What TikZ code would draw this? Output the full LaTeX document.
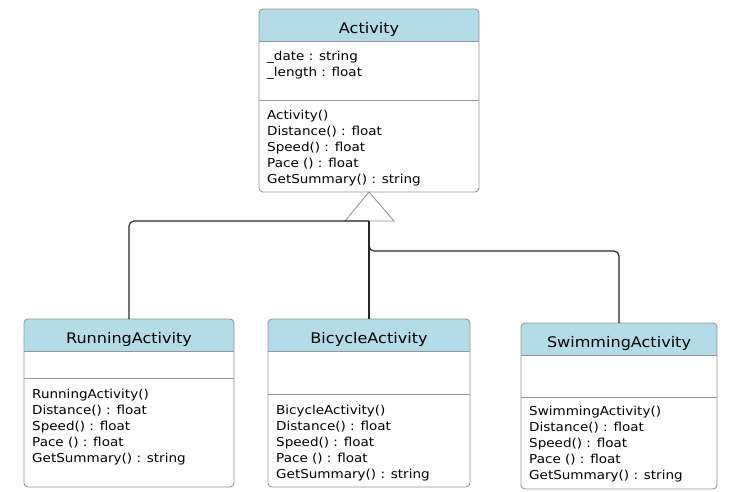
\documentclass[tikz,border=0pt]{standalone}
\usepackage{fontspec}
\setmainfont{DejaVu Sans}[FakeStretch=1.1]
\definecolor{hdr}{RGB}{180,220,232}
\definecolor{bord}{RGB}{150,150,150}
\definecolor{conn}{RGB}{40,40,40}
\newcommand{\umlbox}[7]{%
  \fill[hdr, rounded corners=4pt] (#2,#6) -- (#2,#3) -- (#4,#3) -- (#4,#6);
  \node[draw=bord, line width=0.9pt, rounded corners=4pt, inner sep=0pt, outer sep=0pt,
        anchor=north west, minimum width={#4pt-#2pt}, minimum height={#5pt-#3pt}] (#1) at (#2,#3) {};
  \draw[bord, line width=0.9pt] (#2,#6) -- (#4,#6);
  \draw[bord, line width=0.9pt] (#2,#7) -- (#4,#7);
}
\newcommand{\members}[1]{\begin{tabular}[t]{@{}l@{}}#1\end{tabular}}
\begin{document}
\begin{tikzpicture}[x=1pt, y=-1pt,
  title/.style={anchor=base, inner sep=0pt, font=\fontsize{14.6}{17}\selectfont},
  memb/.style={anchor=base west, inner sep=0pt, font=\fontsize{12.3}{16}\selectfont},
  conn/.style={draw=conn, line width=1.2pt, rounded corners=5pt},
  tri/.style={draw=bord, line width=0.9pt, fill=white}]
\useasboundingbox (0,0) rectangle (750,491);
\fill[white] (0,0) rectangle (750,491);

\umlbox{act}{259}{9}{479}{192}{41}{100}
\umlbox{run}{24}{319}{234}{487}{351}{378}
\umlbox{bic}{268}{319}{470}{487}{351}{394}
\umlbox{swim}{521}{323}{717}{489}{355}{397}

\node[title] (actT) at (369,33) {Activity};
\node[memb] (actA) at (267,60) {\members{\_date : string\\ \_length : float}};
\node[memb] (actM) at (267,119) {\members{Activity()\\ Distance() : float\\ Speed() : float\\ Pace () : float\\ GetSummary() : string}};

\node[title] (runT) at (129,343) {RunningActivity};
\node[memb] (runM) at (32,398) {\members{RunningActivity()\\ Distance() : float\\ Speed() : float\\ Pace () : float\\ GetSummary() : string}};

\node[title] (bicT) at (369,343) {BicycleActivity};
\node[memb] (bicM) at (276,414) {\members{BicycleActivity()\\ Distance() : float\\ Speed() : float\\ Pace () : float\\ GetSummary() : string}};

\node[title] (swimT) at (619,347) {SwimmingActivity};
\node[memb] (swimM) at (529,415) {\members{SwimmingActivity()\\ Distance() : float\\ Speed() : float\\ Pace () : float\\ GetSummary() : string}};

\coordinate (tribase) at (369,221);
\draw[tri] (act.south) -- (345,221) -- (394,221) -- cycle;
\draw[conn] (tribase) -| (run.north);
\draw[conn] (tribase) -- (bic.north);
\draw[conn] (tribase) -- (369,251) -| (swim.north);
\end{tikzpicture}
\end{document}
